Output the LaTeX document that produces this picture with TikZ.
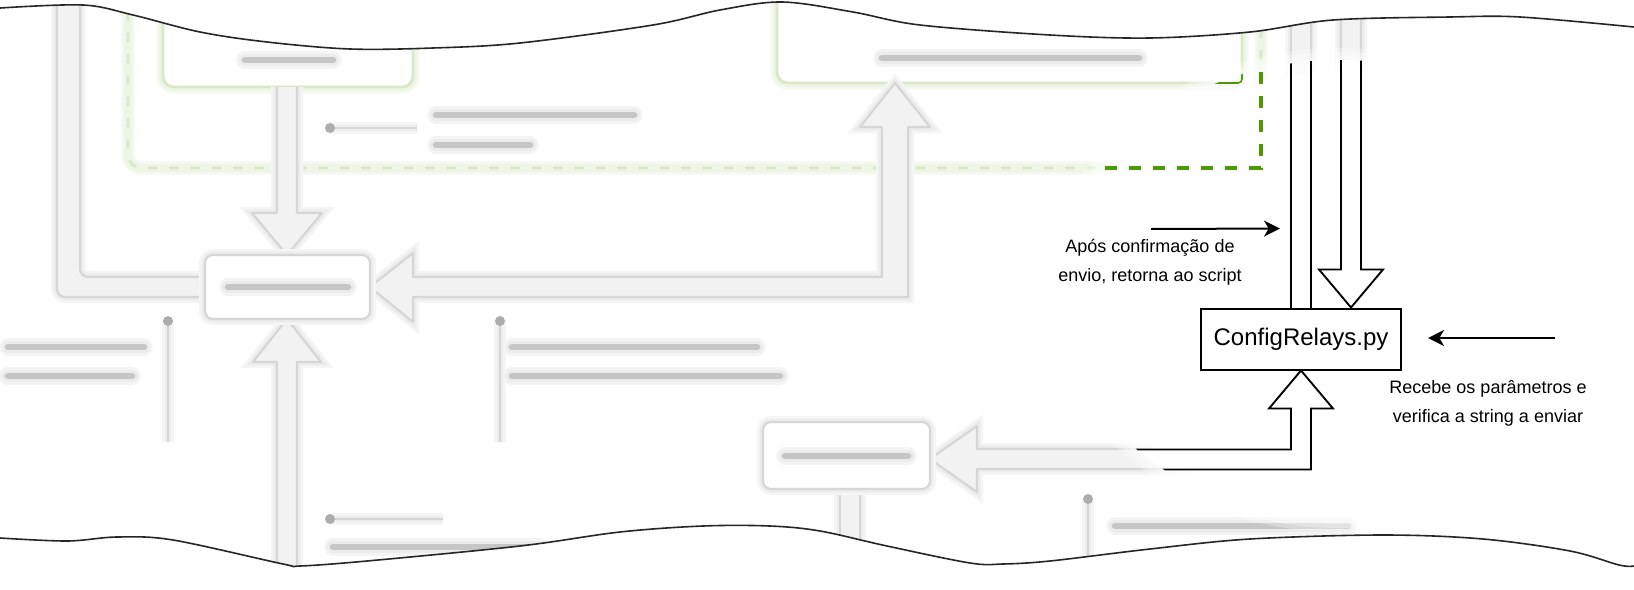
\documentclass[tikz,border=0pt]{standalone}
\usepackage{fontspec}
\setmainfont{Liberation Sans}
\usepackage{xcolor}
\usepackage{tikz}
\usetikzlibrary{calc,arrows.meta}
\definecolor{ink}{HTML}{000000}
\definecolor{leaf}{HTML}{4D9900}
\definecolor{fog}{HTML}{D6D6D6}
\definecolor{foghalo}{HTML}{ECECEC}
\definecolor{fogfill}{HTML}{F2F2F2}
\definecolor{fogtext}{HTML}{C6C6C6}
\definecolor{fogdot}{HTML}{ADADAD}
\definecolor{fogleaf}{HTML}{D9E9C7}
\definecolor{fogleafhalo}{HTML}{EEF5E6}
\definecolor{tearline}{HTML}{262626}
\tikzset{
  haze/.style={draw=fog, line width=1.6pt, line join=round,
    preaction={draw=foghalo!55!white, line width=9pt}, preaction={draw=foghalo, line width=5pt}},
  hazeleaf/.style={draw=fogleaf, line width=2.2pt, line join=round,
    preaction={draw=fogleafhalo!60!white, line width=10pt}, preaction={draw=fogleafhalo, line width=6pt}},
  hazetxt/.style={draw=fogtext, line width=5pt, line cap=round,
    preaction={draw=foghalo!60!white, line width=13pt, line cap=round}, preaction={draw=foghalo, line width=9pt, line cap=round}},
  hazedot/.style={fill=fogdot},
  flex/.style={draw=ink, line width=1.4pt, line join=miter},
  box/.style={draw=ink, fill=white, line width=1.5pt, minimum width=150pt, minimum height=45.75pt, inner sep=0pt, font=\fontsize{18}{21}\selectfont},
  note/.style={text=ink, align=center, inner sep=0pt, font=\fontsize{13.5}{22}\selectfont},
  ptr/.style={draw=ink, line width=1.5pt, -{Stealth[length=12pt,width=12pt,inset=3.5pt]}},
  frame/.style={draw=leaf, line width=2.7pt, dash pattern=on 9pt off 9pt},
  tear/.style={draw=tearline, line width=1.2pt, line join=round},
}
\begin{document}
\begin{tikzpicture}[x=0.75pt, y=-0.75pt]
  \def\cx{1340}
  \def\cy{290}
  \def\rx{282}
  \def\ry{230}
  \useasboundingbox (0,0) rectangle (1634,589);
  \fill[white] (0,0) rectangle (1634,589);

  % blurred sheet
  \draw[hazeleaf, dash pattern=on 7pt off 9pt, rounded corners=10pt] (128,-10) -- (128,168) -- (1261,168) -- (1261,-10);
  \draw[hazeleaf, fill=white, rounded corners=8pt] (163,-20) rectangle (413,87);
  \draw[hazeleaf, fill=white, rounded corners=8pt] (777,-20) rectangle (1242,83);
  \draw[hazetxt] (245,60) -- (333,60);
  \draw[hazetxt] (882,58) -- (1139,58);

  \draw[haze, fill=fogfill, rounded corners=6pt] (205,277) -- (80,277) -- (80,-10) -- (57,-10) -- (57,297) -- (205,297);
  \draw[haze, fill=fogfill] (413,277) -- (882,277) -- (882,127) -- (860,127) -- (895,83) -- (930,127) -- (908,127)
    -- (908,297) -- (413,297) -- (413,322) -- (370,287) -- (413,253) -- cycle;
  \draw[haze, fill=fogfill] (277,87) -- (277,213) -- (252,213) -- (287,255) -- (322,213) -- (297,213) -- (297,87);
  \draw[haze, fill=fogfill] (277,600) -- (277,362) -- (253,362) -- (287,319) -- (321,362) -- (297,362) -- (297,600);
  \draw[haze, fill=white, rounded corners=6pt] (205,255) rectangle (370,319);
  \draw[hazetxt] (228,287) -- (348,287);

  \draw[haze, fill=fogfill] (1291,449) -- (977,449) -- (977,426) -- (930,459) -- (977,492) -- (977,469) -- (1311,469)
    -- (1311,408) -- (1333,408) -- (1301,370) -- (1269,408) -- (1291,408) -- cycle;
  \draw[haze, fill=fogfill] (840,489) -- (840,600) -- (860,600) -- (860,489);
  \draw[haze, fill=white, rounded corners=6pt] (763,422) rectangle (930,489);
  \draw[hazetxt] (785,456) -- (908,456);
  \draw[haze, fill=fogfill] (1291,-10) -- (1291,308) -- (1311,308) -- (1311,-10);
  \draw[haze, fill=fogfill] (1341,-10) -- (1341,270) -- (1319,270) -- (1351,308) -- (1383,270) -- (1361,270) -- (1361,-10);

  \draw[haze] (168,321) -- (168,442);
  \fill[hazedot] (168,321) circle (5);
  \draw[hazetxt] (8,347) -- (144,347);
  \draw[hazetxt] (8,376) -- (132,376);
  \draw[haze] (500,321) -- (500,442);
  \fill[hazedot] (500,321) circle (5);
  \draw[hazetxt] (512,347) -- (757,347);
  \draw[hazetxt] (512,376) -- (780,376);
  \draw[haze] (330,128) -- (417,128);
  \fill[hazedot] (330,128) circle (5);
  \draw[hazetxt] (436,115) -- (634,115);
  \draw[hazetxt] (436,145) -- (530,145);
  \draw[haze] (330,519) -- (443,519);
  \fill[hazedot] (330,519) circle (5);
  \draw[hazetxt] (333,547) -- (540,547);
  \draw[haze] (1088,499) -- (1088,600);
  \fill[hazedot] (1088,499) circle (5);
  \draw[hazetxt] (1115,526) -- (1348,526);

  % sharp spot
  \foreach \k in {0,...,6}
    \fill[white, fill opacity=0.3] (\cx,\cy) ellipse ({\rx+12-4*\k} and {\ry+12-4*\k});
  \fill[white] (\cx,\cy) ellipse ({\rx-12} and {\ry-12});

  \begin{scope}
    \clip (\cx,\cy) ellipse ({\rx} and {\ry});
    \draw[leaf, line width=1.2pt, rounded corners=3pt] (1000,83) -- (1242,83) -- (1242,0);
    \draw[frame] (1261,0) -- (1261,168) -- (1000,168);
    \node[box] (cfg) at (1301,339) {ConfigRelays.py};
    \draw[flex] ($(cfg.north)+(-10,-300)$) -- ($(cfg.north)+(-10,0)$);
    \draw[flex] ($(cfg.north)+(10,-300)$) -- ($(cfg.north)+(10,0)$);
    \draw[flex, fill=white] ($(cfg.north)+(40,-300)$) -- ($(cfg.north)+(40,-38)$) -- ($(cfg.north)+(18,-38)$)
      -- ($(cfg.north)+(50,0)$) -- ($(cfg.north)+(82,-38)$) -- ($(cfg.north)+(60,-38)$) -- ($(cfg.north)+(60,-300)$);
    \draw[flex, fill=white] ($(cfg.south)+(-324,79)$) -- ($(cfg.south)+(-10,79)$) -- ($(cfg.south)+(-10,38)$)
      -- ($(cfg.south)+(-32,38)$) -- (cfg.south) -- ($(cfg.south)+(32,38)$) -- ($(cfg.south)+(10,38)$)
      -- ($(cfg.south)+(10,99)$) -- ($(cfg.south)+(-324,99)$);
    \coordinate (p1) at (1151,229);
    \coordinate (p2) at (1555,338);
    \draw[ptr] (p1) -- ($(cfg.north)+(-21,-79)$);
    \draw[ptr] (p2) -- ($(cfg.east)+(26,-1)$);
  \end{scope}
  \node[note] (back) at (1150,262) {Após confirmação de\\envio, retorna ao script};
  \node[note] (check) at (1488,403) {Recebe os parâmetros e\\verifica a string a enviar};

  % torn edges
  \path[fill=white, tear] (-5,-5) -- (-5,8) -- plot[smooth, tension=0.55] coordinates {(0,8) (83,5) (133,15) (200,32)
    (267,42) (350,49) (433,48) (520,43) (653,25) (720,10) (782,2) (853,12) (920,25) (1050,35) (1150,38) (1250,32)
    (1333,20) (1450,17) (1520,17) (1634,27)} -- (1640,27) -- (1640,-5) -- cycle;
  \path[fill=white, tear] (-5,594) -- (-5,538) -- plot[smooth, tension=0.55] coordinates {(0,538) (67,541) (117,537)
    (173,540) (283,564) (300,566) (367,561) (520,546) (620,532) (703,526) (770,526) (820,531) (887,546) (970,563)
    (1003,564) (1050,561) (1150,549) (1250,539) (1383,535) (1483,539) (1570,551) (1619,565) (1634,566)}
    -- (1640,566) -- (1640,594) -- cycle;
\end{tikzpicture}
\end{document}
